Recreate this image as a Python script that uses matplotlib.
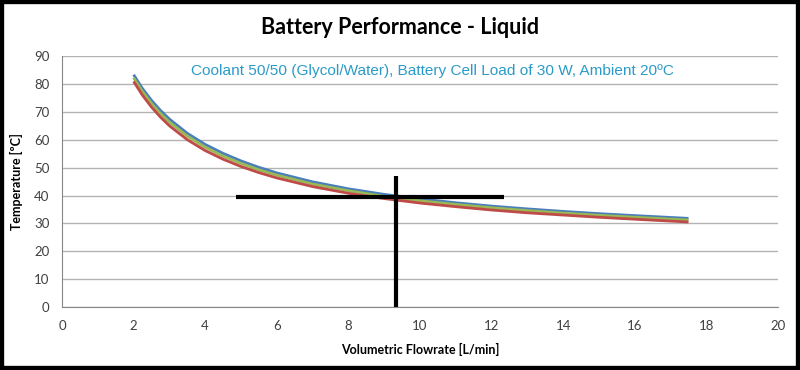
import matplotlib
matplotlib.use("Agg")
import matplotlib.pyplot as plt
from matplotlib.patches import Rectangle

# flowrate [L/min] and temperature [ºC]
flow = [2, 2.25, 2.5, 2.75, 3, 3.5, 4, 4.5, 5, 5.5, 6, 7, 8, 9, 10, 11, 12, 13, 14, 15, 16, 17.5]
temp_blue = [83.3, 78.3, 74.1, 70.5, 67.4, 62.3, 58.3, 55.1, 52.4, 50.1, 48.1, 44.9, 42.4,
             40.4, 38.8, 37.4, 36.2, 35.2, 34.3, 33.5, 32.8, 31.8]
temp_green = [82.2, 77.2, 73.0, 69.4, 66.3, 61.3, 57.3, 54.1, 51.5, 49.2, 47.3, 44.1, 41.7,
              39.7, 38.1, 36.8, 35.6, 34.6, 33.7, 32.9, 32.2, 31.2]
temp_red = [80.9, 75.9, 71.7, 68.1, 65.0, 60.0, 56.1, 53.0, 50.4, 48.2, 46.3, 43.2, 40.8,
            38.9, 37.3, 36.0, 34.8, 33.8, 33.0, 32.2, 31.5, 30.5]

# operating point marker lines
cross_h_x = [4.86, 12.35]
cross_h_y = 39.4
cross_v_x = 9.34
cross_v_y = [0, 47.1]

title = "Battery Performance - Liquid"
note = "Coolant 50/50 (Glycol/Water), Battery Cell Load of 30 W, Ambient 20ºC"

fig = plt.figure(figsize=(8, 3.7), dpi=100)
ax = fig.add_axes([0.0775, 0.170, 0.895, 0.6786])

for t, c in [(temp_blue, "#4A7EBB"), (temp_green, "#98B954"), (temp_red, "#BE4B48")]:
    ax.plot(flow, t, color=c, lw=2.0, solid_capstyle="butt", solid_joinstyle="round")

ax.plot(cross_h_x, [cross_h_y, cross_h_y], color="black", lw=3, solid_capstyle="butt")
ax.plot([cross_v_x, cross_v_x], cross_v_y, color="black", lw=3, solid_capstyle="butt")

ax.set_xlim(0, 20)
ax.set_ylim(0, 90)
ax.set_xticks(range(0, 21, 2))
ax.set_yticks(range(0, 91, 10))
ax.yaxis.grid(True, color="#B3B3B3", lw=1)
ax.set_axisbelow(True)
for s in ["top", "right"]:
    ax.spines[s].set_visible(False)
for s in ["left", "bottom"]:
    ax.spines[s].set_color("#868686")
ax.tick_params(length=0, labelsize=9.5, labelcolor="#404040", pad=9)
for lbl in ax.get_xticklabels() + ax.get_yticklabels():
    lbl.set_family("Lato")

ax.set_xlabel("Volumetric Flowrate [L/min]", family="Lato", fontweight="bold", fontsize=9, labelpad=8)
ax.set_ylabel("Temperature [ºC]", family="Lato", fontweight="bold", fontsize=9, labelpad=8)
ax.text(3.6, 84.6, note, color="#2A9BC9", family="Liberation Sans", fontsize=11.1, va="center")

fig.text(0.5, 0.925, title, ha="center", va="center", family="Lato", fontweight="bold", fontsize=15.5)

fig.patches.append(Rectangle((0, 0), 1, 1, transform=fig.transFigure, fill=False,
                             edgecolor="black", lw=6))

fig.savefig("out.png", dpi=100)
